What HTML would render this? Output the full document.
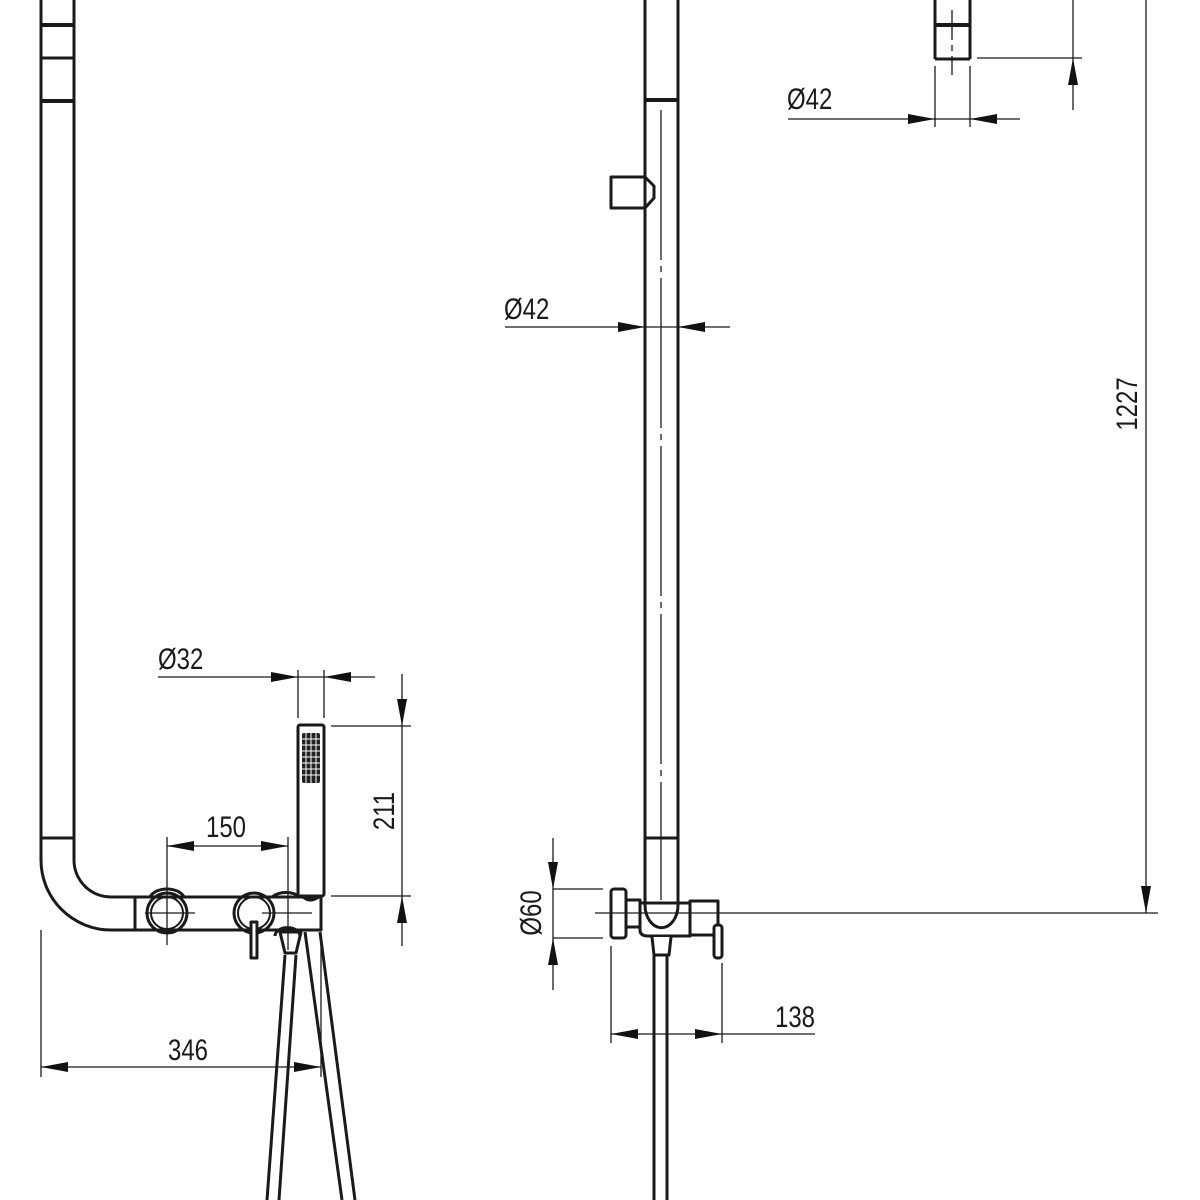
<!DOCTYPE html>
<html><head><meta charset="utf-8"><style>
html,body{margin:0;padding:0;background:#fff;width:1200px;height:1200px;overflow:hidden}
svg{display:block}
text{font-family:"Liberation Sans",sans-serif;font-size:30px;fill:#1a1a1a}
</style></head><body>
<svg width="1200" height="1200" viewBox="0 0 1200 1200" xmlns="http://www.w3.org/2000/svg">
<g fill="none" stroke="#1a1a1a" stroke-width="3" stroke-linejoin="round">
<path d="M41 0 V860 A70 70 0 0 0 111 930 H135"/>
<path d="M74 0 V860 A37 37 0 0 0 111 897 H135"/>
<line x1="41" y1="25" x2="74" y2="25" stroke-width="4"/>
<line x1="41" y1="58" x2="74" y2="58"/>
<line x1="41" y1="101" x2="74" y2="101" stroke-width="4"/>
<line x1="41" y1="838" x2="74" y2="838"/>
<rect x="135" y="897" width="186" height="33"/>
<path d="M150 897 A18 12 0 0 1 184 897"/>
<path d="M272 897 A18 12 0 0 1 300 897"/>
<circle cx="167" cy="913" r="20"/>
<circle cx="167" cy="913" r="16" stroke-width="2"/>
<circle cx="254" cy="913" r="20"/>
<circle cx="254" cy="913" r="16" stroke-width="2"/>
<rect x="251" y="922" width="6" height="36" fill="#fff"/>
<rect x="298" y="725" width="26" height="171" rx="2"/>
<path d="M302 896 Q310 904 320 896"/>
<path d="M280 932 L285 953 H296 L301 932 Z" fill="#fff"/>
<path d="M275 936 A12 8 0 0 1 300 936"/>
<line x1="285" y1="955" x2="267" y2="1200"/>
<line x1="296" y1="955" x2="279" y2="1200"/>
<line x1="305" y1="932" x2="342" y2="1200"/>
<line x1="320" y1="932" x2="355" y2="1200"/>
<line x1="645" y1="0" x2="645" y2="895"/>
<line x1="678" y1="0" x2="678" y2="895"/>
<line x1="645" y1="100" x2="678" y2="100" stroke-width="4"/>
<line x1="645" y1="838" x2="678" y2="838"/>
<path d="M645 177 H611 V208 H645 L654 198 V186 Z" fill="#fff"/>
<line x1="645" y1="170" x2="645" y2="215"/>
<path d="M640 903 V930 Q640 936 648 936 H690 V903 Z" fill="#fff"/>
<path d="M645 895 V905 A16 22 0 0 0 678 905 V895"/>
<rect x="611" y="889" width="15" height="49" rx="3" fill="#fff"/>
<rect x="626" y="900" width="14" height="27" fill="#fff"/>
<rect x="690" y="901" width="28" height="34" fill="#fff"/>
<rect x="714" y="925" width="8" height="33" rx="3" fill="#fff"/>
<path d="M652 937 L654 955 H669 L671 937" fill="#fff"/>
<line x1="654" y1="955" x2="654" y2="1200"/>
<line x1="667" y1="955" x2="667" y2="1200"/>
<line x1="935" y1="0" x2="935" y2="59"/>
<line x1="970" y1="0" x2="970" y2="59"/>
<line x1="935" y1="25" x2="970" y2="25" stroke-width="4"/>
<line x1="935" y1="59" x2="970" y2="59"/>
</g>
<g fill="#222"><rect x="302" y="733" width="18" height="50" rx="2"/></g>
<g stroke="#fff" stroke-width="1">
<line x1="302" y1="739" x2="320" y2="739"/><line x1="302" y1="745" x2="320" y2="745"/><line x1="302" y1="751" x2="320" y2="751"/><line x1="302" y1="757" x2="320" y2="757"/><line x1="302" y1="763" x2="320" y2="763"/><line x1="302" y1="769" x2="320" y2="769"/><line x1="302" y1="775" x2="320" y2="775"/>
<line x1="306" y1="733" x2="306" y2="783"/><line x1="311" y1="733" x2="311" y2="783"/><line x1="316" y1="733" x2="316" y2="783"/>
</g>
<g stroke="#1a1a1a" stroke-width="1.3" fill="none">
<line x1="167" y1="837" x2="167" y2="945"/><line x1="288" y1="837" x2="288" y2="950"/>
<line x1="167" y1="846" x2="288" y2="846"/>
<line x1="145" y1="913" x2="195" y2="913"/><line x1="262" y1="913" x2="312" y2="913"/>
<line x1="158" y1="677" x2="375" y2="677"/>
<line x1="298" y1="670" x2="298" y2="718"/><line x1="324" y1="670" x2="324" y2="718"/>
<line x1="402" y1="674" x2="402" y2="946"/>
<line x1="331" y1="726" x2="411" y2="726"/><line x1="331" y1="896" x2="411" y2="896"/>
<line x1="41" y1="930" x2="41" y2="1077"/><line x1="321" y1="940" x2="321" y2="1077"/>
<line x1="41" y1="1067" x2="321" y2="1067"/>
<line x1="661" y1="110" x2="661" y2="900" stroke-dasharray="150,6,6,6"/>
<line x1="952" y1="10" x2="952" y2="75" stroke-dasharray="30,5,6,5"/>
<line x1="505" y1="327" x2="730" y2="327"/>
<line x1="595" y1="913" x2="1158" y2="913"/>
<line x1="553" y1="838" x2="553" y2="990"/>
<line x1="553" y1="889" x2="603" y2="889"/><line x1="553" y1="938" x2="603" y2="938"/>
<line x1="611" y1="946" x2="611" y2="1043"/><line x1="722" y1="963" x2="722" y2="1043"/>
<line x1="611" y1="1034" x2="815" y2="1034"/>
<line x1="788" y1="119" x2="1020" y2="119"/>
<line x1="935" y1="66" x2="935" y2="127"/><line x1="970" y1="66" x2="970" y2="127"/>
<line x1="1073" y1="0" x2="1073" y2="110"/>
<line x1="977" y1="58" x2="1082" y2="58"/>
<line x1="1146" y1="0" x2="1146" y2="913"/>
</g>
<g fill="#111">
<polygon points="167,846 194,841 194,851"/><polygon points="288,846 261,841 261,851"/>
<polygon points="298,677 271,672 271,682"/><polygon points="324,677 351,672 351,682"/>
<polygon points="402,726 397,699 407,699"/><polygon points="402,896 397,923 407,923"/>
<polygon points="41,1067 68,1062 68,1072"/><polygon points="321,1067 294,1062 294,1072"/>
<polygon points="645,327 618,322 618,332"/><polygon points="678,327 705,322 705,332"/>
<polygon points="553,889 548,862 558,862"/><polygon points="553,938 548,965 558,965"/>
<polygon points="611,1034 638,1029 638,1039"/><polygon points="722,1034 695,1029 695,1039"/>
<polygon points="935,119 908,114 908,124"/><polygon points="970,119 997,114 997,124"/>
<polygon points="1073,58 1068,85 1078,85"/>
<polygon points="1146,913 1141,886 1151,886"/>
</g>
<text transform="translate(226 837) scale(0.8 1)" text-anchor="middle">150</text>
<text transform="translate(158 669) scale(0.8 1)">Ø32</text>
<text transform="translate(394 811) rotate(-90) scale(0.8 1)" text-anchor="middle">211</text>
<text transform="translate(188 1060) scale(0.8 1)" text-anchor="middle">346</text>
<text transform="translate(504 319) scale(0.8 1)">Ø42</text>
<text transform="translate(787 109) scale(0.8 1)">Ø42</text>
<text transform="translate(541 913) rotate(-90) scale(0.8 1)" text-anchor="middle">Ø60</text>
<text transform="translate(795 1027) scale(0.8 1)" text-anchor="middle">138</text>
<text transform="translate(1137 404) rotate(-90) scale(0.8 1)" text-anchor="middle">1227</text>
<text transform="translate(1063 -6) rotate(-90) scale(0.8 1)" text-anchor="middle">1</text>
</svg>
</body></html>
